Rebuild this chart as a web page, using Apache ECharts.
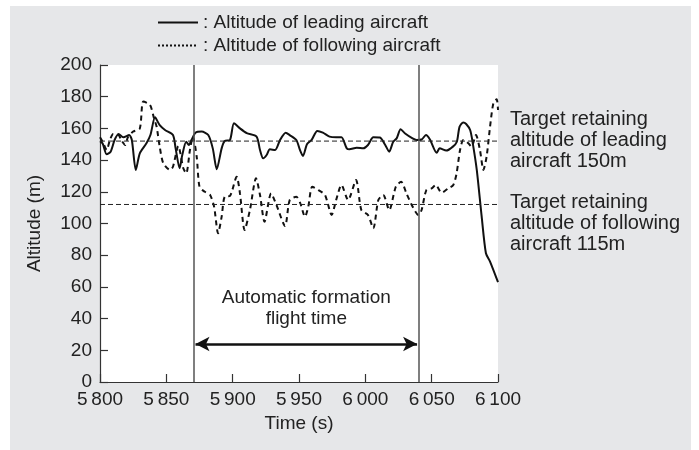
<!DOCTYPE html>
<html>
<head>
<meta charset="utf-8">
<script src="https://cdn.jsdelivr.net/npm/echarts@6/dist/echarts.min.js"></script>
<style>
html,body{margin:0;padding:0;background:#fff;}
#chart{width:699px;height:450px;}
</style>
</head>
<body>
<div id="chart"></div>
<script>
// ---- data ----
const leadTimes = [5800,5802,5805,5808,5811,5814,5817.6,5822,5824,5827,5830,5835,5838,5841.5,5845,5849,5855,5857,5860,5862,5865,5867,5869,5872,5876.6,5881.6,5885,5888,5891.7,5894,5898,5901,5905.5,5910.6,5918,5920.6,5923,5925.6,5928,5932,5935.7,5940,5943,5948,5950.7,5953,5956,5959.5,5963.8,5968,5973,5978,5982,5986,5988,5993.5,5998.5,6002,6006,6011,6015,6018,6021,6023.6,6026.6,6030,6035.6,6038.6,6042.4,6045.7,6048.7,6053.8,6056,6061,6066,6069,6071,6073.8,6076,6079,6081,6084,6087.7,6090.9,6094,6100];
const leadAlt = [152,150.5,143.7,145.3,152.7,156.5,154.4,155.8,152.7,133.8,144.3,150.6,155.8,167,162,159,155.8,147.4,134.8,143.2,151.6,149.5,152.7,157.3,158,155.8,147.4,134.2,147.4,152,152.7,163.2,160,157,154.8,146.4,141.1,143.2,146.8,146.4,152.7,157.3,155.8,152.7,146.4,142.6,150,152.7,158.4,157.3,154.8,154.4,154.4,147.4,146.8,147.8,147.4,149.5,154.4,154.2,149.5,145.3,151.6,153.7,159.4,156.8,153.7,152.7,153,155.8,153,144.6,147.4,146,148.5,151.6,161,163.8,162.8,159,150.6,133.8,104.3,81.2,76,63];
const followTimes = [5800,5802,5805,5807.5,5810,5814,5816,5819,5821,5825,5830,5832.6,5837.7,5840.7,5842.7,5845,5847.7,5852.8,5855,5859,5862.8,5865,5867.8,5870,5872.9,5875,5879,5883,5886,5889,5891.7,5894,5898,5903,5905.5,5909,5913,5917.6,5920.6,5924,5929,5933,5939.5,5943,5948,5951,5954.5,5957,5960,5964.6,5969.6,5974.6,5978,5982,5987,5993,5997,6002,6006,6009.8,6013.5,6018,6023,6027,6031,6035,6040,6042.4,6046,6050,6053,6057.5,6062.5,6066.3,6068.8,6071.4,6073.9,6077.6,6080,6083.4,6086.4,6089,6091.4,6094,6096.5,6099,6100];
const followAlt = [154.4,151.6,146.4,152.7,156.5,155.8,152.7,149.5,154.4,158,160,176.9,174.8,166.4,161,148.5,138,133.8,135.8,148.9,134.8,131.7,146.4,154.8,142.1,123.2,120,118,110.6,93.8,104.3,116.9,117.4,129.5,119,95.9,108.5,128.5,118,101.1,119,111.7,98.4,114.8,116.9,112.7,104.3,110.6,123.2,121.1,118,105.4,114.8,124.3,114.8,127.4,108.5,105.4,97,114.8,118,108.5,123.2,126.4,119,111.7,105.4,108.5,121.1,122.2,124.3,119.4,122.2,124.3,131.7,146.4,152.7,150.6,148.5,155.8,146.4,133.8,142.1,161,175.8,178.4,171.6];
const seriesNames = ['Altitude of leading aircraft', 'Altitude of following aircraft'];
const targetLead = 152;      // drawn level of the "150 m" target line
const targetFollow = 112;    // drawn level of the "115 m" target line
const targetLineEnd = 6107.5;
const formationStart = 5871;
const formationEnd = 6040;
const arrowLevel = 24;
const xTicks = {min: 5800, max: 6100, interval: 50};
const yTicks = {min: 0, max: 200, interval: 20};
const annoLead = 'Target retaining\naltitude of leading\naircraft 150m';
const annoFollow = 'Target retaining\naltitude of following\naircraft 115m';
const formationLabel = 'Automatic formation\nflight time';
const xName = 'Time (s)';
const yName = 'Altitude (m)';

// ---- chart ----
const FONT = 'Liberation Sans';
const TXT = '#222';
const zip = (a, b) => a.map((t, i) => [t, b[i]]);
const noSymbol = {color: 'rgba(0,0,0,0)', borderWidth: 0, opacity: 0};

const chart = echarts.init(document.getElementById('chart'), null, {renderer: 'canvas'});
chart.setOption({
  animation: false,
  backgroundColor: '#ffffff',
  textStyle: {fontFamily: FONT},
  graphic: [
    {type: 'rect', z: -100, silent: true, shape: {x: 10, y: 6, width: 681, height: 444}, style: {fill: '#e6e7e9'}},
    {type: 'text', left: 510, top: 109, silent: true, style: {text: annoLead, font: '20px ' + FONT, fill: TXT, lineHeight: 21}},
    {type: 'text', left: 510, top: 192, silent: true, style: {text: annoFollow, font: '20px ' + FONT, fill: TXT, lineHeight: 21}}
  ],
  grid: {left: 100, right: 201, top: 65, bottom: 68, show: true, backgroundColor: '#ffffff', borderWidth: 0},
  legend: {
    orient: 'vertical', left: 152, top: 8, itemWidth: 40, itemHeight: 12, itemGap: 4,
    itemStyle: noSymbol,
    data: [
      {name: seriesNames[0], itemStyle: noSymbol, lineStyle: {type: 'solid', width: 2, color: '#111'}},
      {name: seriesNames[1], itemStyle: noSymbol, lineStyle: {type: [2, 2], width: 2, color: '#111'}}
    ],
    formatter: n => ': ' + n,
    textStyle: {fontFamily: FONT, fontSize: 19, color: TXT},
    selectedMode: false
  },
  xAxis: {
    type: 'value', min: xTicks.min, max: xTicks.max, interval: xTicks.interval,
    name: xName, nameLocation: 'middle', nameGap: 31,
    nameTextStyle: {fontFamily: FONT, fontSize: 19, color: TXT},
    axisLine: {lineStyle: {color: '#333', width: 1.2}},
    axisTick: {inside: true, length: 8, lineStyle: {color: '#333', width: 1.2}},
    splitLine: {show: false},
    axisLabel: {fontFamily: FONT, fontSize: 19, color: TXT, margin: 8,
      formatter: v => { const s = String(v); return s[0] + '\u2009' + s.slice(1); }}
  },
  yAxis: {
    type: 'value', min: yTicks.min, max: yTicks.max, interval: yTicks.interval,
    name: yName, nameLocation: 'middle', nameGap: 56,
    nameTextStyle: {fontFamily: FONT, fontSize: 19, color: TXT},
    axisLine: {show: true, lineStyle: {color: '#333', width: 1.2}},
    axisTick: {show: true, inside: true, length: 8, lineStyle: {color: '#333', width: 1.2}},
    splitLine: {show: false},
    axisLabel: {fontFamily: FONT, fontSize: 19, color: TXT, margin: 8}
  },
  series: [
    {
      name: seriesNames[0], type: 'line', data: zip(leadTimes, leadAlt),
      showSymbol: false, symbol: 'none', smooth: 0.25,
      lineStyle: {color: '#111', width: 2},
      itemStyle: {color: '#111'},
      markLine: {
        silent: true, symbol: 'none', label: {show: false},
        lineStyle: {color: '#555', width: 1.5, type: 'solid'},
        data: [{xAxis: formationStart}, {xAxis: formationEnd}]
      }
    },
    {
      name: seriesNames[1], type: 'line', data: zip(followTimes, followAlt),
      showSymbol: false, symbol: 'none', smooth: 0.25,
      lineStyle: {color: '#111', width: 2, type: [5, 4]},
      itemStyle: {color: '#111'}
    },
    {
      type: 'line', data: [[xTicks.min, targetLead], [targetLineEnd, targetLead]], clip: false,
      symbol: 'none', silent: true, lineStyle: {color: '#222', width: 1, type: [5, 3]}
    },
    {
      type: 'line', data: [[xTicks.min, targetFollow], [targetLineEnd, targetFollow]], clip: false,
      symbol: 'none', silent: true, lineStyle: {color: '#222', width: 1, type: [5, 3]},
      markLine: {
        silent: true, symbol: ['arrow', 'arrow'], symbolSize: [11, 14],
        lineStyle: {color: '#111', width: 2.5, type: 'solid'},
        label: {show: true, position: 'middle', formatter: formationLabel, distance: 15,
          fontFamily: FONT, fontSize: 19, color: TXT, lineHeight: 21},
        data: [[{coord: [formationStart + 1, arrowLevel]}, {coord: [formationEnd - 1, arrowLevel]}]]
      }
    }
  ]
});
</script>
</body>
</html>
